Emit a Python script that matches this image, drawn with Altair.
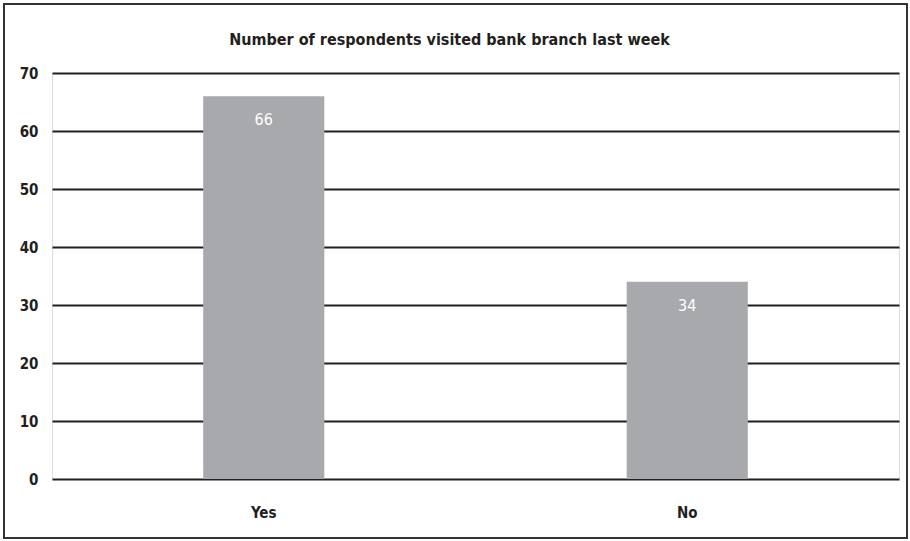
import altair as alt
import pandas as pd

categories = ["Yes", "No"]
values = [66, 34]
title_text = "Number of respondents visited bank branch last week"

df = pd.DataFrame({"answer": categories, "count": values})

FONT = "DejaVu Sans Condensed, Liberation Sans Narrow, sans-serif"
W, H = 847, 406

base = alt.Chart(df)

bars = base.mark_bar(color="#a7a9ac").encode(
    x=alt.X("answer:N", sort=categories, title=None,
            scale=alt.Scale(paddingInner=0.714, paddingOuter=0.357),
            axis=alt.Axis(labelAngle=0, domain=False, ticks=False, labelPadding=26,
                          labelFontSize=15, labelFont=FONT, labelColor="#231f20",
                          labelFontWeight=600)),
    y=alt.Y("count:Q", title=None,
            scale=alt.Scale(domain=[0, 70]),
            axis=alt.Axis(values=list(range(0, 80, 10)), domain=False, ticks=False,
                          labelPadding=14, labelFontSize=15, labelFont=FONT,
                          labelColor="#231f20", labelFontWeight=600,
                          grid=True, gridColor="#231f20", gridWidth=1.8, gridOpacity=1)),
)

labels = base.mark_text(color="white", dy=24, fontSize=16, font=FONT, baseline="middle").encode(
    x=alt.X("answer:N", sort=categories),
    y=alt.Y("count:Q"),
    text=alt.Text("count:Q"),
)

border = alt.Chart(pd.DataFrame({"a": [0]})).mark_rect(
    fill=None, stroke="#333333", strokeWidth=2
).encode(
    x=alt.value(-48), x2=alt.value(W + 8),
    y=alt.value(-69), y2=alt.value(H + 59),
)

title = alt.Chart(pd.DataFrame({"t": [title_text]})).mark_text(
    fontSize=16, font=FONT, fontWeight=600, color="#231f20",
    align="center", baseline="middle"
).encode(
    x=alt.value(W / 2 - 26), y=alt.value(-33), text="t:N",
)

chart = alt.layer(bars, labels, border, title).properties(
    width=W, height=H,
    autosize=alt.AutoSizeParams(type="none"),
    padding={"left": 52, "top": 73, "right": 11, "bottom": 62},
).configure_view(stroke=None).configure(background="white")

chart.save("out.html", embed_options={"renderer": "svg", "actions": False})
